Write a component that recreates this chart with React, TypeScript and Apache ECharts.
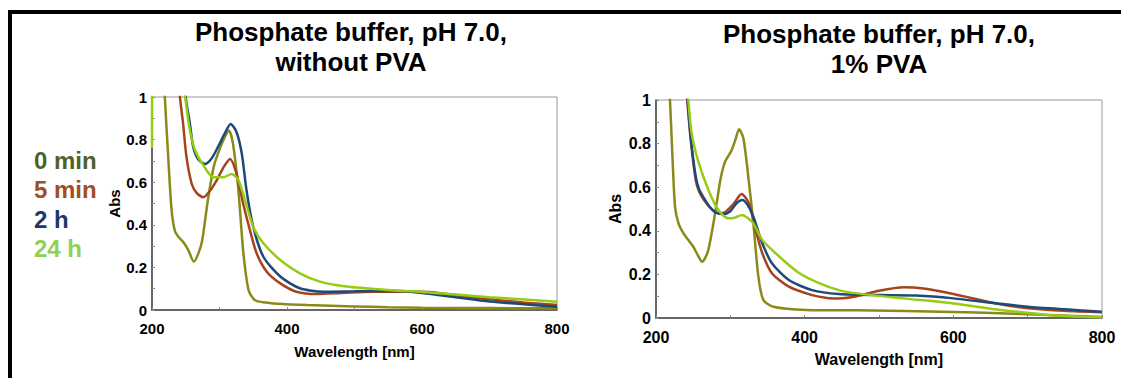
import React, { useEffect, useRef } from "react";
import * as echarts from "echarts";

// ---- Data (wavelength [nm], absorbance) ----
const seriesNames = ["0 min", "5 min", "2 h", "24 h"];
const lineColors = ["#8a8a18", "#a6431b", "#1d4a7a", "#97cc12"];
const legendColors = ["#4f6228", "#a0501e", "#1f3864", "#92d050"];

const titleLeft = "Phosphate buffer, pH 7.0,\nwithout PVA";
const titleRight = "Phosphate buffer, pH 7.0,\n1% PVA";
const xName = "Wavelength [nm]";
const yName = "Abs";

// Without PVA
const noPva0min: number[][] = [
  [200, 2.2], [212, 1.5], [219, 1.0], [224, 0.72], [229, 0.47], [234, 0.37], [240, 0.34],
  [246, 0.32], [254, 0.28], [262, 0.227], [268, 0.26], [274, 0.32], [283, 0.52], [292, 0.68],
  [302, 0.77], [309, 0.82], [314, 0.843], [320, 0.78], [328, 0.563], [335, 0.28], [343, 0.094],
  [352, 0.047], [365, 0.036], [380, 0.031], [430, 0.023], [500, 0.017], [550, 0.013],
  [600, 0.011], [700, 0.009], [800, 0.008],
];
const noPva5min: number[][] = [
  [230, 1.6], [241.5, 1.0], [246, 0.877], [251, 0.72], [258.7, 0.594], [266, 0.55],
  [276, 0.529], [286, 0.56], [296, 0.61], [306, 0.67], [315.6, 0.709], [325, 0.642],
  [335, 0.5], [345, 0.376], [355, 0.266], [370, 0.18], [390, 0.125], [414, 0.086],
  [444, 0.075], [480, 0.08], [528, 0.086], [600, 0.086], [686, 0.055], [750, 0.035], [800, 0.023],
];
const noPva2h: number[][] = [
  [240, 1.5], [250, 1.0], [256, 0.877], [261, 0.767], [268, 0.71], [278.5, 0.685],
  [288, 0.71], [298, 0.767], [308, 0.83], [316.5, 0.873], [325, 0.837], [333, 0.735],
  [340, 0.563], [350, 0.39], [365, 0.25], [390, 0.157], [419, 0.102], [454, 0.086],
  [500, 0.088], [560, 0.09], [600, 0.08], [650, 0.06], [700, 0.04], [800, 0.015],
];
const noPva24h: number[][] = [
  [200, 0.76], [200.5, 1.3], [220, 1.8], [245, 1.1], [251, 0.955], [256, 0.845],
  [263.7, 0.751], [276, 0.68], [291, 0.623], [305.6, 0.623], [318, 0.639], [328, 0.61],
  [337.8, 0.516], [350, 0.39], [365, 0.313], [390, 0.235], [419, 0.172], [449, 0.133],
  [488, 0.11], [550, 0.094], [600, 0.085], [700, 0.06], [800, 0.039],
];

// 1% PVA
const pva0min: number[][] = [
  [200, 2.2], [212, 1.4], [218.8, 1.0], [222, 0.75], [225.6, 0.51], [230.3, 0.434],
  [236.6, 0.39], [243, 0.36], [250, 0.328], [256, 0.29], [262, 0.258], [266, 0.275],
  [270.4, 0.312], [276, 0.41], [281.6, 0.526], [287, 0.64], [292.8, 0.716], [301.8, 0.77],
  [307, 0.82], [311.7, 0.866], [317.5, 0.826], [324.2, 0.647], [331, 0.434], [337.7, 0.19],
  [344.4, 0.083], [357.8, 0.052], [402.6, 0.037], [470, 0.035], [600, 0.028], [663, 0.022],
  [700, 0.017], [800, 0.005],
];
const pva5min: number[][] = [
  [230, 1.5], [242, 1.0], [246.7, 0.817], [253.4, 0.633], [258, 0.58], [264.6, 0.541],
  [272, 0.51], [280.3, 0.485], [288, 0.48], [294, 0.488], [305, 0.526], [315, 0.569],
  [325, 0.526], [334, 0.404], [343, 0.297], [356, 0.205], [378.7, 0.144], [410, 0.105],
  [430, 0.092], [446, 0.09], [470, 0.1], [500, 0.125], [533, 0.141], [560, 0.135],
  [600, 0.11], [663, 0.063], [700, 0.045], [750, 0.033], [800, 0.026],
];
const pva2h: number[][] = [
  [230, 1.5], [242.5, 1.0], [246.7, 0.83], [253.4, 0.65], [258, 0.59], [264.6, 0.55],
  [272, 0.51], [280, 0.485], [291, 0.477], [300, 0.49], [308, 0.525], [316, 0.541],
  [323, 0.52], [331, 0.465], [343, 0.343], [356, 0.251], [378.7, 0.174], [410, 0.128],
  [446, 0.11], [500, 0.105], [550, 0.103], [600, 0.09], [663, 0.065], [700, 0.052],
  [750, 0.04], [800, 0.029],
];
const pva24h: number[][] = [
  [230, 1.6], [243.5, 1.0], [248, 0.847], [257, 0.717], [270.5, 0.587], [283.9, 0.495],
  [297.3, 0.457], [306, 0.46], [316, 0.473], [323, 0.46], [331, 0.434], [343, 0.358],
  [366, 0.281], [393, 0.205], [420, 0.159], [446, 0.128], [470, 0.113], [533, 0.09],
  [600, 0.067], [663, 0.037], [700, 0.024], [730, 0.013], [800, 0.003],
];

const leftSeries = [noPva0min, noPva5min, noPva2h, noPva24h];
const rightSeries = [pva0min, pva5min, pva2h, pva24h];

const FONT = "'Liberation Sans', Arial, sans-serif";

function xAxisCfg(gridIndex: number, fs: number, gap: number) {
  return {
    type: "value",
    gridIndex,
    min: 200,
    max: 800,
    interval: 200,
    name: xName,
    nameLocation: "middle",
    nameGap: gap,
    nameTextStyle: { fontFamily: FONT, fontWeight: "bold", fontSize: fs, color: "#000" },
    axisLine: { show: true, onZero: false, lineStyle: { color: "#444", width: 1.5 } },
    axisTick: { show: true, inside: true, length: 3, lineStyle: { color: "#888" } },
    minorTick: { show: true, splitNumber: 2, length: 3, lineStyle: { color: "#888" } },
    axisLabel: { fontFamily: FONT, fontWeight: "bold", fontSize: fs, color: "#000", margin: 11 },
    splitLine: { show: false },
  };
}

function yAxisCfg(gridIndex: number, fs: number, gap: number) {
  return {
    type: "value",
    gridIndex,
    min: 0,
    max: 1,
    interval: 0.2,
    name: yName,
    nameLocation: "middle",
    nameRotate: 90,
    nameGap: gap,
    nameTextStyle: { fontFamily: FONT, fontWeight: "bold", fontSize: fs, color: "#000" },
    axisLine: { show: true, onZero: false, lineStyle: { color: "#444", width: 1.5 } },
    axisTick: { show: true, inside: true, length: 3, lineStyle: { color: "#888" } },
    minorTick: { show: true, splitNumber: 2, length: 3, lineStyle: { color: "#888" } },
    axisLabel: { fontFamily: FONT, fontWeight: "bold", fontSize: fs, color: "#000", margin: 5 },
    splitLine: { show: false },
  };
}

export default function App() {
  const ref = useRef<HTMLDivElement>(null);
  useEffect(() => {
    if (!ref.current) return;
    const chart = echarts.init(ref.current, undefined, { renderer: "svg" });
    const series: any[] = [];
    [leftSeries, rightSeries].forEach((group, gi) => {
      group.forEach((data, si) => {
        series.push({
          type: "line",
          name: seriesNames[si],
          xAxisIndex: gi,
          yAxisIndex: gi,
          data,
          showSymbol: false,
          symbol: "none",
          smooth: 0.25,
          clip: true,
          lineStyle: { color: lineColors[si], width: 2.5 },
          z: si === 0 ? 2 : 3,
        });
      });
    });

    const legendTexts = seriesNames.map((n, i) => ({
      type: "text",
      left: 34,
      top: 148 + i * 29.5,
      style: {
        text: n,
        fill: legendColors[i],
        font: `bold 24px ${FONT}`,
      },
    }));

    chart.setOption({
      animation: false,
      backgroundColor: "#fff",
      grid: [
        { left: 152, top: 97, width: 405, height: 213, show: true, borderColor: "#999", borderWidth: 1, backgroundColor: "transparent" },
        { left: 656, top: 100, width: 446, height: 218, show: true, borderColor: "#999", borderWidth: 1, backgroundColor: "transparent" },
      ],
      xAxis: [xAxisCfg(0, 15, 34), xAxisCfg(1, 16, 33)],
      yAxis: [yAxisCfg(0, 15, 27), yAxisCfg(1, 16, 33)],
      series,
      graphic: [
        {
          type: "rect",
          shape: { x: 10, y: 12, width: 1300, height: 600 },
          style: { fill: "none", stroke: "#000", lineWidth: 4 },
          silent: true,
        },
        {
          type: "text",
          x: 351,
          y: 17,
          style: {
            text: titleLeft,
            textAlign: "center",
            textVerticalAlign: "top",
            font: `bold 26px ${FONT}`,
            lineHeight: 30,
            fill: "#000",
          },
        },
        {
          type: "text",
          x: 879,
          y: 19,
          style: {
            text: titleRight,
            textAlign: "center",
            textVerticalAlign: "top",
            font: `bold 26px ${FONT}`,
            lineHeight: 30,
            fill: "#000",
          },
        },
        ...legendTexts,
      ],
    });
    return () => chart.dispose();
  }, []);
  return (
    <div
      ref={ref}
      style={{ position: "absolute", left: 0, top: 0, width: 1121, height: 378 }}
    />
  );
}
